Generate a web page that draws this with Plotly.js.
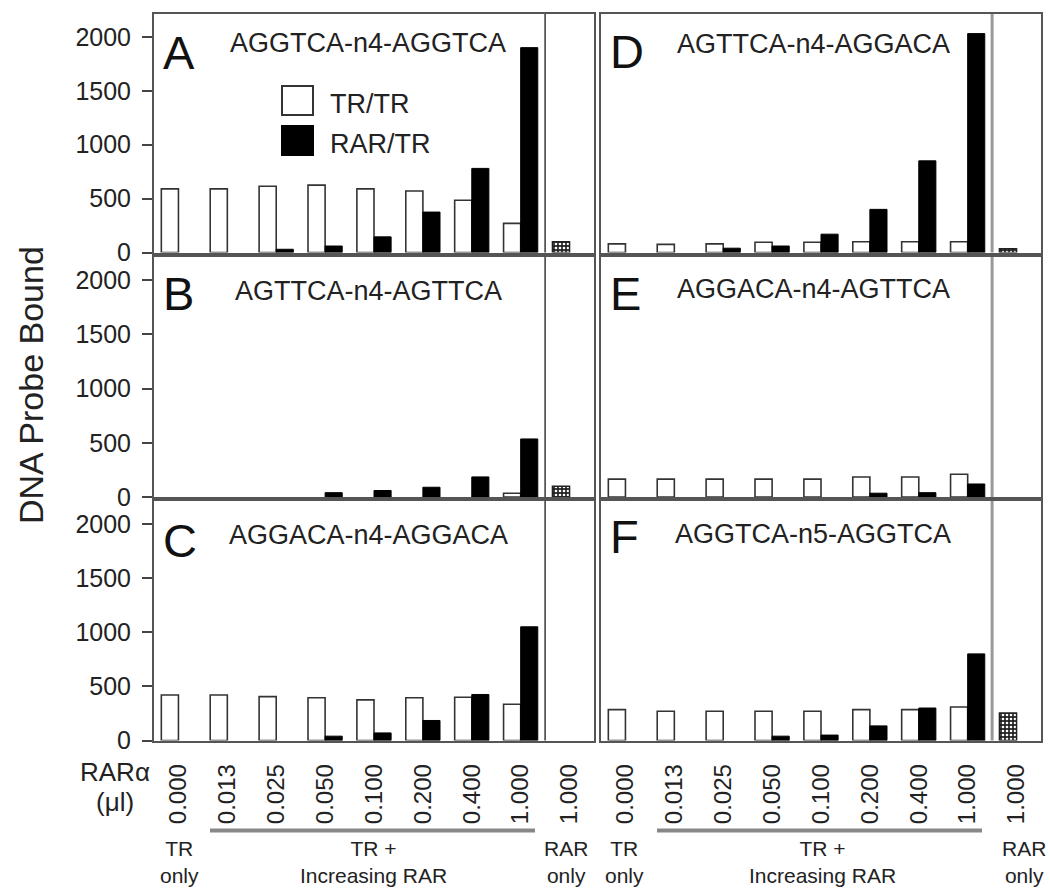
<!DOCTYPE html>
<html><head><meta charset="utf-8">
<script src="https://cdn.plot.ly/plotly-3.0.1.min.js"></script>
<style>html,body{margin:0;padding:0;background:#fff}</style>
</head><body><div id="chart" style="width:1050px;height:896px"></div>
<script>
// ---- data ----
const categories = ['0.000','0.013','0.025','0.050','0.100','0.200','0.400','1.000','1.000 (RAR only)'];
const tickLabels = ['0.000','0.013','0.025','0.050','0.100','0.200','0.400','1.000','1.000'];
const trCategories = categories.slice(0, 8);
const yTicks = [0, 500, 1000, 1500, 2000];
const panelLetters = ['A','B','C','D','E','F'];
const panelSequences = ['AGGTCA-n4-AGGTCA','AGTTCA-n4-AGTTCA','AGGACA-n4-AGGACA','AGTTCA-n4-AGGACA','AGGACA-n4-AGTTCA','AGGTCA-n5-AGGTCA'];

const trtrA  = [590, 590, 615, 625, 590, 570, 485, 270];
const rartrA = [0, 0, 30, 60, 145, 375, 780, 1900];
const rarOnlyA = 100;
const trtrB  = [0, 0, 0, 0, 0, 0, 0, 35];
const rartrB = [0, 0, 0, 40, 60, 90, 185, 535];
const rarOnlyB = 100;
const trtrC  = [420, 420, 405, 395, 375, 395, 400, 335];
const rartrC = [0, 0, 0, 40, 70, 185, 425, 1050];
const rarOnlyC = 0;
const trtrD  = [80, 75, 80, 95, 95, 100, 100, 100];
const rartrD = [0, 0, 40, 60, 170, 400, 850, 2030];
const rarOnlyD = 35;
const trtrE  = [165, 165, 165, 165, 165, 185, 185, 210];
const rartrE = [0, 0, 0, 0, 0, 35, 40, 120];
const rarOnlyE = 0;
const trtrF  = [285, 270, 270, 270, 270, 285, 285, 310];
const rartrF = [0, 0, 0, 40, 50, 135, 300, 800];
const rarOnlyF = 255;

const trtrAll = [trtrA, trtrB, trtrC, trtrD, trtrE, trtrF];
const rartrAll = [rartrA, rartrB, rartrC, rartrD, rartrE, rartrF];
const rarOnlyAll = [rarOnlyA, rarOnlyB, rarOnlyC, rarOnlyD, rarOnlyE, rarOnlyF];

// ---- layout helpers ----
const W = 1050, H = 896;
const px = x => x / W;
const py = y => 1 - y / H;
const FONT = 'Liberation Sans, Arial, Helvetica, sans-serif';
const rows = [{top: 14, zero: 252.5}, {top: 257, zero: 497}, {top: 501, zero: 740.5}];
const cols = [{l: 154, r: 594}, {l: 601, r: 1041}];
const letterRel = [38, 36, 39, 37, 36, 35];
const seqRel = [29, 34, 34, 30, 32, 33];
const outline = (vals, w) => vals.map(v => (v > 0 ? w : 0));

const traces = [];
const layout = {
  width: W, height: H,
  margin: {l: 0, r: 0, t: 0, b: 0},
  paper_bgcolor: '#fff', plot_bgcolor: '#fff',
  barmode: 'group', bargap: 0.3, bargroupgap: 0,
  showlegend: false,
  font: {family: FONT, color: '#222'},
  shapes: [], annotations: []
};

for (let p = 0; p < 6; p++) {
  const col = p < 3 ? 0 : 1, row = p % 3;
  const sfx = p === 0 ? '' : String(p + 1);
  const xId = 'x' + sfx, yId = 'y' + sfx;
  layout['xaxis' + sfx] = {
    domain: [px(cols[col].l), px(cols[col].r)], anchor: yId,
    type: 'category', categoryorder: 'array', categoryarray: categories,
    range: [-0.5, 8.5], showline: true, mirror: true, linecolor: '#555', linewidth: 2,
    ticks: '', showgrid: false, zeroline: false,
    showticklabels: row === 2, tickmode: 'array', tickvals: categories, ticktext: tickLabels,
    tickangle: -90, tickfont: {size: 24, family: FONT, color: '#222'}, ticklabelstandoff: 12
  };
  layout['yaxis' + sfx] = {
    domain: [py(rows[row].zero), py(rows[row].top)], anchor: xId,
    range: [0, 2212], tickmode: 'array', tickvals: yTicks,
    showticklabels: col === 0, ticks: col === 0 ? 'outside' : '', ticklen: 10, tickwidth: 2, tickcolor: '#444',
    tickfont: {size: 25, family: FONT, color: '#222'}, ticklabelstandoff: 6,
    showline: true, mirror: true, linecolor: '#555', linewidth: 2, showgrid: false, zeroline: false
  };
  traces.push({
    type: 'bar', name: 'TR/TR', x: trCategories, y: trtrAll[p], xaxis: xId, yaxis: yId,
    offsetgroup: 'tr', marker: {color: '#ffffff', line: {color: '#333', width: outline(trtrAll[p], 1.6)}}
  });
  traces.push({
    type: 'bar', name: 'RAR/TR', x: trCategories, y: rartrAll[p], xaxis: xId, yaxis: yId,
    offsetgroup: 'rar', marker: {color: '#000000', line: {color: '#000', width: outline(rartrAll[p], 1)}}
  });
  traces.push({
    type: 'bar', name: 'RAR only', x: [categories[8]], y: [rarOnlyAll[p]], xaxis: xId, yaxis: yId,
    offsetgroup: 'tr',
    marker: {color: '#222', line: {color: '#222', width: outline([rarOnlyAll[p]], 1.5)},
      pattern: {shape: '.', fillmode: 'replace', fgcolor: '#ffffff', bgcolor: '#222', size: 4, solidity: 0.35}}
  });
  // separator between "TR + RAR" and "RAR only"
  layout.shapes.push({
    type: 'line', xref: xId, yref: yId + ' domain', x0: 7.5, x1: 7.5, y0: 0, y1: 1,
    line: {color: col === 0 ? '#444' : '#999', width: col === 0 ? 1.6 : 3}
  });
  // panel letter
  layout.annotations.push({
    xref: 'paper', yref: 'paper', x: px(cols[col].l + 7), y: py(rows[row].top + letterRel[p]),
    xanchor: 'left', yanchor: 'middle', showarrow: false, text: panelLetters[p],
    font: {size: 47, family: FONT, color: '#111'}
  });
  // sequence
  layout.annotations.push({
    xref: 'paper', yref: 'paper', x: px(cols[col].l + (col === 0 ? 214 : 212)), y: py(rows[row].top + seqRel[p]),
    xanchor: 'center', yanchor: 'middle', showarrow: false, text: panelSequences[p],
    font: {size: 27, family: FONT, color: '#222'}
  });
}

// legend (panel A)
layout.shapes.push({type: 'rect', xref: 'paper', yref: 'paper', x0: px(282), x1: px(313), y0: py(115), y1: py(86),
  fillcolor: '#fff', line: {color: '#333', width: 2}});
layout.shapes.push({type: 'rect', xref: 'paper', yref: 'paper', x0: px(282), x1: px(313), y0: py(155), y1: py(126),
  fillcolor: '#000', line: {color: '#000', width: 2}});
layout.annotations.push({xref: 'paper', yref: 'paper', x: px(328), y: py(104), xanchor: 'left', yanchor: 'middle',
  showarrow: false, text: 'TR/TR', font: {size: 27, family: FONT, color: '#222'}});
layout.annotations.push({xref: 'paper', yref: 'paper', x: px(328), y: py(144), xanchor: 'left', yanchor: 'middle',
  showarrow: false, text: 'RAR/TR', font: {size: 27, family: FONT, color: '#222'}});

// y title
layout.annotations.push({xref: 'paper', yref: 'paper', x: px(31), y: py(385), xanchor: 'center', yanchor: 'middle',
  textangle: -90, showarrow: false, text: 'DNA Probe Bound', font: {size: 34, family: FONT, color: '#222'}});

// bottom x labels
layout.annotations.push({xref: 'paper', yref: 'paper', x: px(115), y: py(772), xanchor: 'center', yanchor: 'middle',
  showarrow: false, text: 'RARα', font: {size: 26, family: FONT, color: '#222'}});
layout.annotations.push({xref: 'paper', yref: 'paper', x: px(115), y: py(802), xanchor: 'center', yanchor: 'middle',
  showarrow: false, text: '(μl)', font: {size: 26, family: FONT, color: '#222'}});
const groupLabels = [
  {x: 179, t: 'TR<br>only'}, {x: 373, t: 'TR +<br>Increasing RAR'}, {x: 566, t: 'RAR<br>only'},
  {x: 624, t: 'TR<br>only'}, {x: 822, t: 'TR +<br>Increasing RAR'}, {x: 1024, t: 'RAR<br>only'}
];
groupLabels.forEach(g => layout.annotations.push({xref: 'paper', yref: 'paper', x: px(g.x), y: py(862),
  xanchor: 'center', yanchor: 'middle', showarrow: false, text: g.t, font: {size: 21, family: FONT, color: '#222'}}));
// grey brackets under increasing RAR
[[210, 535], [657, 982]].forEach(s => layout.shapes.push({type: 'line', xref: 'paper', yref: 'paper',
  x0: px(s[0]), x1: px(s[1]), y0: py(830.5), y1: py(830.5), line: {color: '#888', width: 4}}));

Plotly.newPlot('chart', traces, layout, {staticPlot: true, displayModeBar: false});
</script></body></html>
